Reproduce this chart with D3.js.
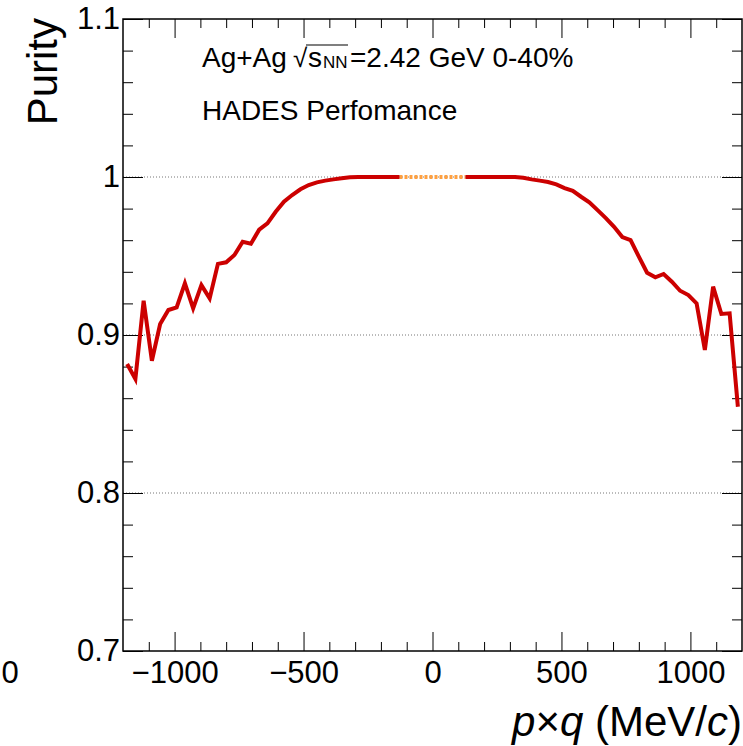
<!DOCTYPE html>
<html>
<head>
<meta charset="utf-8">
<script src="https://cdn.jsdelivr.net/npm/d3@7"></script>
<style>
  body { margin: 0; background: #fff; }
  svg text { font-family: "Liberation Sans", Arial, Helvetica, sans-serif; fill: #000; }
</style>
</head>
<body>
<div id="chart"></div>
<script>
// Data (bin centers in MeV/c)
const leftPq = [-1184, -1152, -1120, -1088, -1056, -1024, -992, -960, -928, -896, -864, -832,
    -800, -768, -736, -704, -672, -640, -608, -576, -544, -512, -480, -448, -416, -384, -352,
    -320, -288, -256, -224, -192, -160, -128];
const leftPurity = [0.8816, 0.8722, 0.9217, 0.8837, 0.907, 0.9158, 0.9175, 0.9327, 0.9169, 0.9316,
    0.9232, 0.945, 0.946, 0.9506, 0.959, 0.9578, 0.9667, 0.9707, 0.978, 0.9844, 0.9886, 0.9922,
    0.9949, 0.9966, 0.9977, 0.9985, 0.9992, 0.9998, 1.0, 1.0, 1.0, 1.0, 1.0, 1.0];

const centralPq = [-128, -96, -64, -32, 0, 32, 64, 96, 128];
const centralPurity = [1.0, 1.0, 1.0, 1.0, 1.0, 1.0, 1.0, 1.0, 1.0];

const rightPq = [128, 160, 192, 224, 256, 288, 320, 352, 384, 416, 448, 480, 512, 544, 576, 608,
    640, 672, 704, 736, 768, 800, 832, 864, 896, 928, 960, 992, 1024, 1056, 1088, 1120, 1152, 1184];
const rightPurity = [1.0, 1.0, 1.0, 1.0, 1.0, 1.0, 1.0, 0.9995, 0.9985, 0.9977, 0.9968, 0.9953,
    0.993, 0.9912, 0.9875, 0.984, 0.979, 0.974, 0.9685, 0.962, 0.960, 0.9496, 0.9394, 0.9365,
    0.9386, 0.9337, 0.928, 0.9253, 0.920, 0.8905, 0.9306, 0.9133, 0.9137, 0.8546];

// Ticks
const xMajorTicks = [-1000, -500, 0, 500, 1000];
const xTickLabels = ['\u22121000', '\u2212500', '0', '500', '1000'];
const xMinorTicks = [-1100, -900, -800, -700, -600, -400, -300, -200, -100,
    100, 200, 300, 400, 600, 700, 800, 900, 1100];
const yMajorTicks = [0.7, 0.8, 0.9, 1.0, 1.1];
const yTickLabels = ['0.7', '0.8', '0.9', '1', '1.1'];
const yMinorTicks = [0.72, 0.74, 0.76, 0.78, 0.82, 0.84, 0.86, 0.88, 0.92, 0.94, 0.96, 0.98,
    1.02, 1.04, 1.06, 1.08];
const gridValues = [0.8, 0.9, 1.0];

// Layout
const W = 743, H = 746;
const frame = {left: 123, top: 19, right: 742, bottom: 651};

const svg = d3.select('#chart')
    .append('svg')
    .attr('width', W)
    .attr('height', H);

const x = d3.scaleLinear().domain([-1200, 1200]).range([frame.left, frame.right]);
const y = d3.scaleLinear().domain([0.7, 1.1]).range([frame.bottom, frame.top]);

// Grid (dotted, only at 0.8 / 0.9 / 1.0)
svg.append('g')
    .selectAll('line')
    .data(gridValues)
    .enter()
    .append('line')
    .attr('x1', frame.left)
    .attr('x2', frame.right)
    .attr('y1', d => y(d))
    .attr('y2', d => y(d))
    .attr('stroke', '#777')
    .attr('stroke-width', 1)
    .attr('stroke-dasharray', '1,2');

// Axes helper
function drawAxis(axis, tx, ty, fontSize) {
    const g = svg.append('g')
        .attr('transform', `translate(${tx},${ty})`)
        .call(axis);
    g.select('.domain').remove();
    g.selectAll('.tick line').attr('stroke', '#000').attr('stroke-width', 1);
    g.selectAll('text')
        .attr('font-size', fontSize)
        .style('font-family', '"Liberation Sans", Arial, sans-serif')
        .attr('fill', '#000');
    return g;
}

const xLabelMap = new Map(xMajorTicks.map((v, i) => [v, xTickLabels[i]]));
const yLabelMap = new Map(yMajorTicks.map((v, i) => [v, yTickLabels[i]]));

// bottom
drawAxis(d3.axisBottom(x).tickValues(xMajorTicks).tickSizeInner(-19).tickSizeOuter(0)
    .tickPadding(10).tickFormat(d => xLabelMap.get(d)), 0, frame.bottom, 31);
drawAxis(d3.axisBottom(x).tickValues(xMinorTicks).tickSizeInner(-9).tickSizeOuter(0)
    .tickFormat(''), 0, frame.bottom, 31);
// top
drawAxis(d3.axisTop(x).tickValues(xMajorTicks).tickSizeInner(-19).tickSizeOuter(0)
    .tickFormat(''), 0, frame.top, 31);
drawAxis(d3.axisTop(x).tickValues(xMinorTicks).tickSizeInner(-9).tickSizeOuter(0)
    .tickFormat(''), 0, frame.top, 31);
// left
drawAxis(d3.axisLeft(y).tickValues(yMajorTicks).tickSizeInner(-20).tickSizeOuter(0)
    .tickPadding(3).tickFormat(d => yLabelMap.get(d)), frame.left, 0, 31);
drawAxis(d3.axisLeft(y).tickValues(yMinorTicks).tickSizeInner(-10).tickSizeOuter(0)
    .tickFormat(''), frame.left, 0, 31);
// right
drawAxis(d3.axisRight(y).tickValues(yMajorTicks).tickSizeInner(-20).tickSizeOuter(0)
    .tickFormat(''), frame.right, 0, 31);
drawAxis(d3.axisRight(y).tickValues(yMinorTicks).tickSizeInner(-10).tickSizeOuter(0)
    .tickFormat(''), frame.right, 0, 31);

// Frame
svg.append('rect')
    .attr('x', frame.left)
    .attr('y', frame.top)
    .attr('width', frame.right - frame.left)
    .attr('height', frame.bottom - frame.top)
    .attr('fill', 'none')
    .attr('stroke', '#000')
    .attr('stroke-width', 1.5);

// Curves
const line = d3.line()
    .x(d => x(d[0]))
    .y(d => y(d[1]));

svg.append('path')
    .datum(d3.zip(centralPq, centralPurity))
    .attr('d', line)
    .attr('fill', 'none')
    .attr('stroke', '#ffa040')
    .attr('stroke-width', 4)
    .attr('stroke-dasharray', '3,2');

[[leftPq, leftPurity], [rightPq, rightPurity]].forEach(([pq, pur]) => {
    svg.append('path')
        .datum(d3.zip(pq, pur))
        .attr('d', line)
        .attr('fill', 'none')
        .attr('stroke', '#cc0000')
        .attr('stroke-width', 4)
        .attr('stroke-linejoin', 'miter');
});

// Axis titles
svg.append('text')
    .attr('transform', 'translate(57,18) rotate(-90)')
    .attr('text-anchor', 'end')
    .attr('font-size', 42)
    .text('Purity');

const xt = svg.append('text')
    .attr('x', 742)
    .attr('y', 736)
    .attr('text-anchor', 'end')
    .attr('font-size', 42);
xt.append('tspan').attr('font-style', 'italic').text('p');
xt.append('tspan').text('\u00d7');
xt.append('tspan').attr('font-style', 'italic').text('q');
xt.append('tspan').text(' (MeV/');
xt.append('tspan').attr('font-style', 'italic').text('c');
xt.append('tspan').text(')');

// stray label at bottom-left edge
svg.append('text')
    .attr('x', 10)
    .attr('y', 683)
    .attr('text-anchor', 'middle')
    .attr('font-size', 31)
    .text('0');

// Annotations
const t1 = svg.append('text')
    .attr('x', 202)
    .attr('y', 67)
    .attr('font-size', 28);
t1.append('tspan').text('Ag+Ag');
t1.append('tspan').attr('x', 293).attr('font-size', 26).text('\u221a');
t1.append('tspan').attr('x', 308).text('s');
t1.append('tspan').attr('x', 323).attr('dy', 1).attr('font-size', 17).text('NN');
t1.append('tspan').attr('x', 350).attr('dy', -1).text('=2.42 GeV 0-40%');

svg.append('line')
    .attr('x1', 306)
    .attr('x2', 348)
    .attr('y1', 45)
    .attr('y2', 45)
    .attr('stroke', '#000')
    .attr('stroke-width', 1.2);

svg.append('text')
    .attr('x', 202)
    .attr('y', 120)
    .attr('font-size', 28)
    .text('HADES Perfomance');
</script>
</body>
</html>
